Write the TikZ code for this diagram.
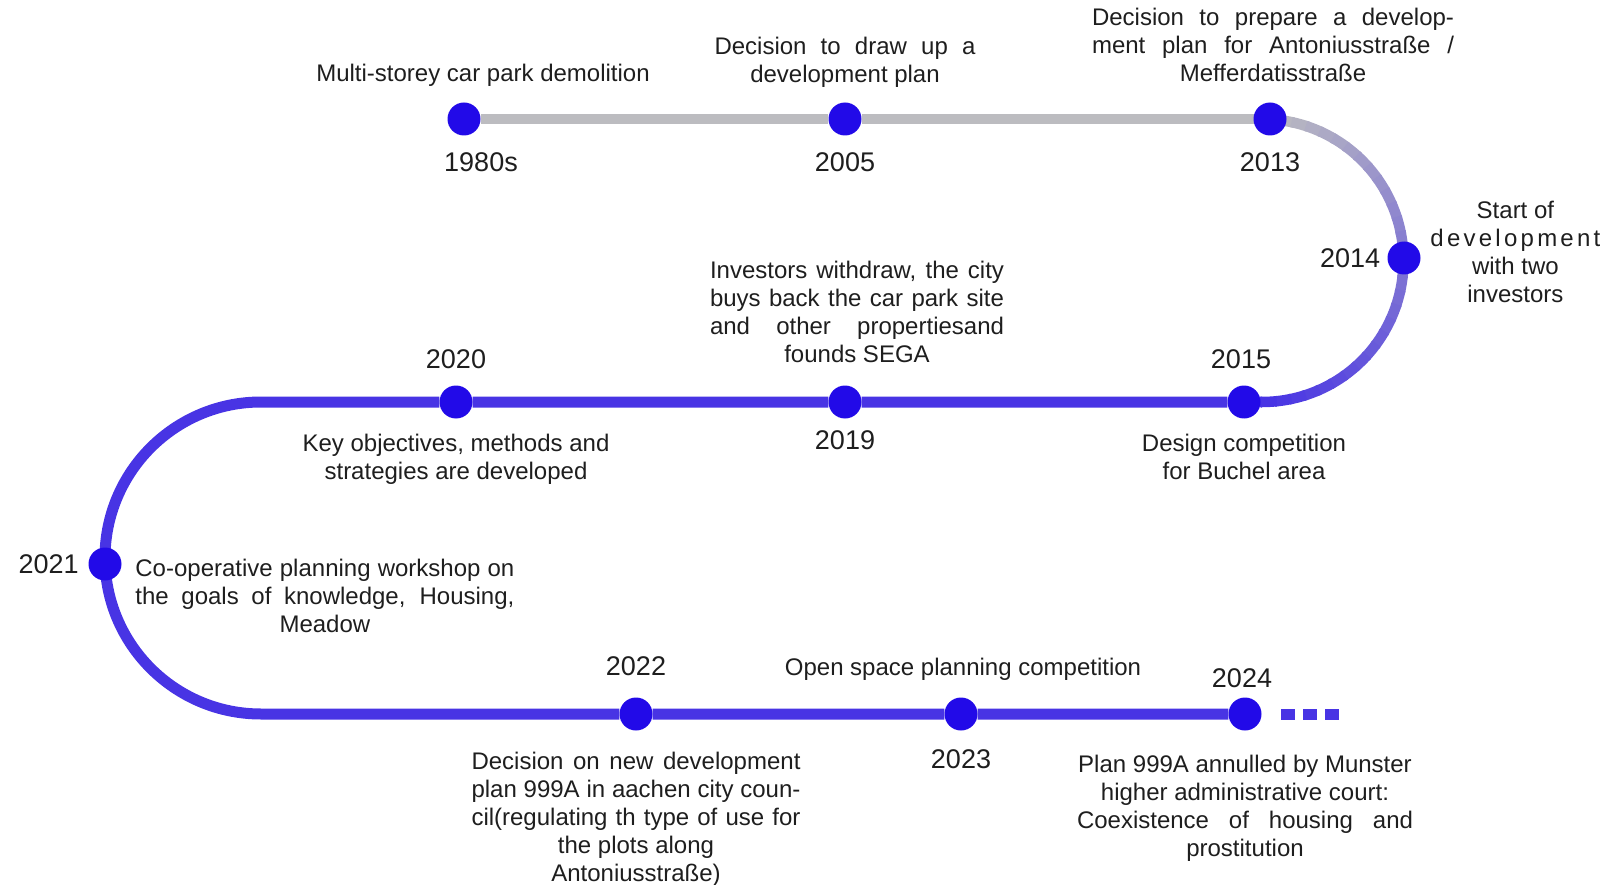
\documentclass[tikz,border=0pt]{standalone}
\usepackage{fontspec}
\setmainfont{Liberation Sans}
\usetikzlibrary{positioning, backgrounds}

\definecolor{dotblue}{RGB}{34,10,232}
\definecolor{trackblue}{RGB}{72,52,228}
\definecolor{topgray}{RGB}{188,188,192}
\definecolor{txt}{RGB}{30,30,30}

% a justified line of a given width
\newcommand{\jline}[2]{\makebox[#1][s]{#2}}

\begin{document}
\begin{tikzpicture}[
        x=1pt, y=-1pt,
        node distance=16pt,
        dot/.style={circle, fill=dotblue, minimum size=33pt, inner sep=0pt},
        year/.style={font=\fontsize{27}{32}\selectfont, text=txt, inner sep=0pt},
        desc/.style={font=\fontsize{24}{28}\selectfont, text=txt, inner sep=0pt, align=center},
        track/.style={draw=trackblue, line width=11pt}
    ]
    \useasboundingbox (0,0) rectangle (1606,885);

    % Dots, top row
    \node[dot] (y1980) at (464,119) {};
    \node[dot] (y2005) at (845,119) {};
    \node[dot] (y2013) at (1270,119) {};

    % Dot on the right bend
    \node[dot] (y2014) at (1404,258) {};

    % Dots, middle row
    \node[dot] (y2015) at (1244,402) {};
    \node[dot] (y2019) at (845,402) {};
    \node[dot] (y2020) at (456,402) {};

    % Dot on the left bend
    \node[dot] (y2021) at (105,564) {};

    % Dots, bottom row
    \node[dot] (y2022) at (636,714) {};
    \node[dot] (y2023) at (961,714) {};
    \node[dot] (y2024) at (1245,714) {};

    % Corners of the bends and the open end
    \coordinate (rt) at (1262,119);
    \coordinate (rc) at (1262,260.5);
    \coordinate (rb) at (1262,402);
    \coordinate (lt) at (261,402);
    \coordinate[right=19.5pt of y2024] (tail0);
    \coordinate[right=77pt of y2024] (tail1);

    % Year labels
    \node[year, below=17pt of y1980, xshift=17pt] (t1980) {1980s};
    \node[year, below=17pt of y2005] (t2005) {2005};
    \node[year, below=17pt of y2013] (t2013) {2013};
    \node[year, left=7pt of y2014] (t2014) {2014};
    \node[year, above=16pt of y2015, xshift=-3pt] (t2015) {2015};
    \node[year, below=12pt of y2019] (t2019) {2019};
    \node[year, above=16pt of y2020] (t2020) {2020};
    \node[year, left=9.5pt of y2021] (t2021) {2021};
    \node[year, above=21pt of y2022] (t2022) {2022};
    \node[year, below=19pt of y2023] (t2023) {2023};
    \node[year, above=9pt of y2024, xshift=-3pt] (t2024) {2024};

    % Events
    \node[desc, above=16pt of y1980, xshift=19pt] (d1980) {Multi-storey car park demolition};
    \node[desc, above=15pt of y2005] (d2005) {\jline{261pt}{Decision to draw up a}\\development plan};
    \node[desc, above=20pt of y2013, xshift=3pt] (d2013) {\jline{362pt}{Decision to prepare a develop-}\\\jline{362pt}{ment plan for Antoniusstraße /}\\Mefferdatisstraße};
    \node[desc, right=9.5pt of y2014, yshift=6pt] (d2014) {Start of\\\jline{170pt}{d\hfil e\hfil v\hfil e\hfil l\hfil o\hfil p\hfil m\hfil e\hfil n\hfil t}\\with two\\investors};
    \node[desc, below=15pt of y2015] (d2015) {Design competition\\for Buchel area};
    \node[desc, above=22pt of y2019, xshift=12pt] (d2019) {\jline{294pt}{Investors withdraw, the city}\\\jline{294pt}{buys back the car park site}\\\jline{294pt}{and other propertiesand}\\founds SEGA};
    \node[desc, below=15pt of y2020] (d2020) {Key objectives, methods and\\strategies are developed};
    \node[desc, right=13.5pt of y2021, anchor=north west, yshift=5pt] (d2021) {\jline{379pt}{Co-operative planning workshop on}\\\jline{379pt}{the goals of knowledge, Housing,}\\Meadow};
    \node[desc, below=21pt of y2022] (d2022) {\jline{329pt}{Decision on new development}\\\jline{329pt}{plan 999A in aachen city coun-}\\\jline{329pt}{cil(regulating th type of use for}\\the plots along\\Antoniusstraße)};
    \node[desc, above=17pt of y2023, xshift=2pt] (d2023) {Open space planning competition};
    \node[desc, below=24pt of y2024] (d2024) {Plan 999A annulled by Munster\\higher administrative court:\\\jline{336pt}{Coexistence of housing and}\\prostitution};

    % Track
    \begin{scope}[on background layer]
        \draw[track, draw=topgray, line width=10pt] (y1980) -- (y2005) -- (rt);
        \foreach \i in {0,...,29} {
            \pgfmathsetmacro\mix{\i*100/29}
            \draw[track, line width=10.5pt, draw=trackblue!\mix!topgray]
                ([shift={(-90+\i*6:141.5)}]rc) arc[start angle=-90+\i*6, end angle=-83+\i*6, radius=141.5];
        }
        \draw[track] (rb) -- (y2015) -- (y2019) -- (y2020) -- (lt)
            arc[start angle=-90, end angle=-270, radius=156] -- (y2022) -- (y2023) -- (y2024);
        \draw[track, dash pattern=on 13.5pt off 8.5pt] (tail0) -- (tail1);
    \end{scope}

\end{tikzpicture}
\end{document}
